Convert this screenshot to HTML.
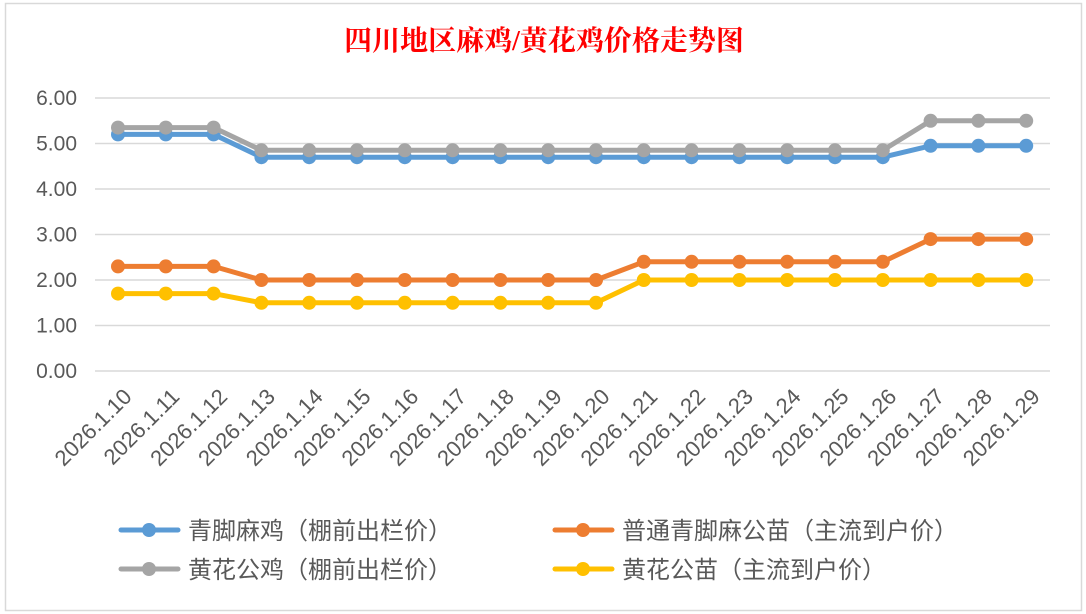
<!DOCTYPE html>
<html><head><meta charset="utf-8"><style>
body{margin:0;width:1086px;height:614px;background:#fff;overflow:hidden}
svg{display:block}
text{font-family:"Liberation Sans","Noto Sans CJK SC",sans-serif}
</style></head><body>
<svg id="s" width="1086" height="614" viewBox="0 0 1086 614">
<rect x="5.5" y="3.5" width="1076" height="607" fill="#fff" stroke="#d9d9d9" stroke-width="1.5"/>
<text x="544" y="50" text-anchor="middle" font-size="28" fill="#ff0000" style="font-family:'Liberation Serif','Noto Serif CJK SC',serif;font-weight:bold">四川地区麻鸡/黄花鸡价格走势图</text>
<g stroke="#d9d9d9" stroke-width="1.5">
<line x1="95" x2="1050" y1="98" y2="98"/><line x1="95" x2="1050" y1="143.5" y2="143.5"/>
<line x1="95" x2="1050" y1="189" y2="189"/><line x1="95" x2="1050" y1="234.5" y2="234.5"/>
<line x1="95" x2="1050" y1="280" y2="280"/><line x1="95" x2="1050" y1="325.5" y2="325.5"/>
<line x1="95" x2="1050" y1="371" y2="371"/>
</g>
<g font-size="21" fill="#595959" text-anchor="end">
<text x="77" y="105">6.00</text><text x="77" y="150.5">5.00</text><text x="77" y="196">4.00</text>
<text x="77" y="241.5">3.00</text><text x="77" y="287">2.00</text><text x="77" y="332.5">1.00</text>
<text x="77" y="378">0.00</text>
</g>
<g id="series"></g>
<g font-size="22" fill="#595959" text-anchor="end">
<text transform="translate(133,398) rotate(-45)">2026.1.10</text>
<text transform="translate(180.8,398) rotate(-45)">2026.1.11</text>
<text transform="translate(228.6,398) rotate(-45)">2026.1.12</text>
<text transform="translate(276.4,398) rotate(-45)">2026.1.13</text>
<text transform="translate(324.2,398) rotate(-45)">2026.1.14</text>
<text transform="translate(372,398) rotate(-45)">2026.1.15</text>
<text transform="translate(419.8,398) rotate(-45)">2026.1.16</text>
<text transform="translate(467.6,398) rotate(-45)">2026.1.17</text>
<text transform="translate(515.4,398) rotate(-45)">2026.1.18</text>
<text transform="translate(563.2,398) rotate(-45)">2026.1.19</text>
<text transform="translate(611,398) rotate(-45)">2026.1.20</text>
<text transform="translate(658.8,398) rotate(-45)">2026.1.21</text>
<text transform="translate(706.6,398) rotate(-45)">2026.1.22</text>
<text transform="translate(754.4,398) rotate(-45)">2026.1.23</text>
<text transform="translate(802.2,398) rotate(-45)">2026.1.24</text>
<text transform="translate(850,398) rotate(-45)">2026.1.25</text>
<text transform="translate(897.8,398) rotate(-45)">2026.1.26</text>
<text transform="translate(945.6,398) rotate(-45)">2026.1.27</text>
<text transform="translate(993.4,398) rotate(-45)">2026.1.28</text>
<text transform="translate(1041.2,398) rotate(-45)">2026.1.29</text>
</g>
<g stroke-width="5" stroke-linecap="round">
<line x1="121" x2="178" y1="530" y2="530" stroke="#5b9bd5"/><circle cx="149" cy="530" r="7" fill="#5b9bd5"/>
<line x1="121" x2="178" y1="569" y2="569" stroke="#a5a5a5"/><circle cx="149" cy="569" r="7" fill="#a5a5a5"/>
<line x1="555" x2="612" y1="530" y2="530" stroke="#ed7d31"/><circle cx="583" cy="530" r="7" fill="#ed7d31"/>
<line x1="555" x2="612" y1="569" y2="569" stroke="#ffc000"/><circle cx="583" cy="569" r="7" fill="#ffc000"/>
</g>
<g font-size="24" fill="#595959">
<text x="188" y="539">青脚麻鸡（棚前出栏价）</text>
<text x="188" y="578">黄花公鸡（棚前出栏价）</text>
<text x="622" y="539">普通青脚麻公苗（主流到户价）</text>
<text x="622" y="578">黄花公苗（主流到户价）</text>
</g>
</svg>
<script>
var S=[["#5b9bd5",[5.2,5.2,5.2,4.7,4.7,4.7,4.7,4.7,4.7,4.7,4.7,4.7,4.7,4.7,4.7,4.7,4.7,4.95,4.95,4.95]],
["#a5a5a5",[5.35,5.35,5.35,4.85,4.85,4.85,4.85,4.85,4.85,4.85,4.85,4.85,4.85,4.85,4.85,4.85,4.85,5.5,5.5,5.5]],
["#ed7d31",[2.3,2.3,2.3,2,2,2,2,2,2,2,2,2.4,2.4,2.4,2.4,2.4,2.4,2.9,2.9,2.9]],
["#ffc000",[1.7,1.7,1.7,1.5,1.5,1.5,1.5,1.5,1.5,1.5,1.5,2,2,2,2,2,2,2,2,2]]];
var g=document.getElementById('series'),h='';
S.forEach(function(s){var p=s[1].map(function(v,i){return (118+i*47.8).toFixed(1)+','+(371-45.5*v).toFixed(1)});
h+='<polyline fill="none" stroke="'+s[0]+'" stroke-width="5" stroke-linejoin="round" points="'+p.join(' ')+'"/>';
p.forEach(function(q){var a=q.split(',');h+='<circle cx="'+a[0]+'" cy="'+a[1]+'" r="7" fill="'+s[0]+'"/>';});});
g.innerHTML=h;
</script>
</body></html>
